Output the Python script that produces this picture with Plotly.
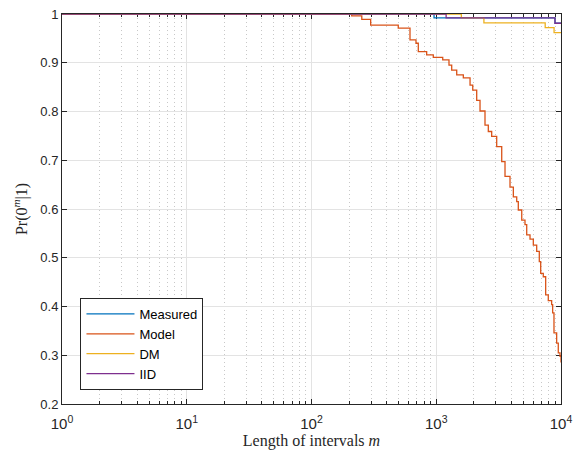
import plotly.graph_objects as go

# Data (step curves, x = interval length m)
measured_x = [1, 960, 8950, 10000]
measured_y = [1.0, 0.992, 0.981, 0.981]

model_x = [1, 210, 253, 298, 496, 616, 688, 718, 838, 947, 1127, 1265, 1330, 1459,
           1648, 1866, 1961, 2110, 2243, 2459, 2614, 2782, 3052, 3348, 3558, 3902,
           4149, 4416, 4548, 4845, 5145, 5310, 5645, 5999, 6385, 6700, 6874, 7211,
           7536, 7907, 8414, 8571, 8785, 9231, 9510, 9820, 10000]
model_y = [1.0, 0.996, 0.989, 0.977, 0.971, 0.947, 0.940, 0.923, 0.916, 0.911, 0.906,
           0.895, 0.885, 0.875, 0.869, 0.854, 0.844, 0.823, 0.801, 0.772, 0.759, 0.749,
           0.728, 0.697, 0.667, 0.645, 0.625, 0.615, 0.598, 0.577, 0.568, 0.547, 0.538,
           0.526, 0.513, 0.492, 0.468, 0.461, 0.424, 0.412, 0.404, 0.387, 0.346, 0.325,
           0.305, 0.298, 0.285]

dm_x = [1, 1590, 2410, 7470, 8800, 10000]
dm_y = [1.0, 0.992, 0.982, 0.972, 0.962, 0.962]

iid_x = [1, 1200, 8950, 10000]
iid_y = [1.0, 0.992, 0.981, 0.981]

x_tick_vals = [1, 10, 100, 1000, 10000]
x_tick_text = ["10<sup>0</sup>", "10<sup>1</sup>", "10<sup>2</sup>", "10<sup>3</sup>", "10<sup>4</sup>"]
y_tick_vals = [0.2, 0.3, 0.4, 0.5, 0.6, 0.7, 0.8, 0.9, 1.0]
y_tick_text = ["0.2", "0.3", "0.4", "0.5", "0.6", "0.7", "0.8", "0.9", "1"]

minor_x = [k * 10 ** d for d in range(4) for k in range(2, 10)]

series = [
    ("Measured", measured_x, measured_y, "#0072BD"),
    ("Model", model_x, model_y, "#D95319"),
    ("DM", dm_x, dm_y, "#EDB120"),
    ("IID", iid_x, iid_y, "#7E2F8E"),
]

fig = go.Figure()
for name, xs, ys, col in series:
    fig.add_trace(go.Scatter(x=xs, y=ys, mode="lines", name=name,
                             line=dict(color=col, width=1.3, shape="hv")))

axis_common = dict(showline=True, linecolor="#262626", linewidth=1, mirror="ticks",
                   ticks="inside", ticklen=5, tickcolor="#262626", zeroline=False,
                   layer="below traces", automargin=False)

serif = "Liberation Serif, DejaVu Serif, serif"
sans = "Liberation Sans, Arial, sans-serif"

fig.update_xaxes(type="log", range=[0, 4], tickmode="array", tickvals=x_tick_vals,
                 ticktext=x_tick_text, showgrid=True, gridcolor="#e3e3e3", gridwidth=1,
                 tickfont=dict(family=sans, size=15, color="#262626"),
                 ticklabelstandoff=6,
                 minor=dict(tickmode="array", tickvals=minor_x, ticks="inside", ticklen=3,
                            tickcolor="#262626", showgrid=True, gridcolor="#c8c8c8",
                            griddash="1px,3px", gridwidth=1),
                 title=dict(text="Length of intervals <i>m</i>", standoff=2,
                            font=dict(family=serif, size=16, color="#262626")),
                 **axis_common)
fig.update_yaxes(range=[0.2, 1.0], tickmode="array", tickvals=y_tick_vals, ticktext=y_tick_text,
                 showgrid=True, gridcolor="#e3e3e3", gridwidth=1,
                 tickfont=dict(family=sans, size=13, color="#262626"),
                 title=dict(text="Pr(0<sup><i>m</i></sup>|1)", standoff=8,
                            font=dict(family=serif, size=16, color="#262626")),
                 **axis_common)

fig.update_layout(
    width=583, height=452,
    margin=dict(l=62, r=22, t=14, b=48),
    plot_bgcolor="white", paper_bgcolor="white",
    legend=dict(x=0.037, y=0.036, xanchor="left", yanchor="bottom",
                bgcolor="white", bordercolor="#262626", borderwidth=1,
                font=dict(family=sans, size=13, color="#000000"),
                itemwidth=48, tracegroupgap=0),
)

fig.write_html("out.html")
